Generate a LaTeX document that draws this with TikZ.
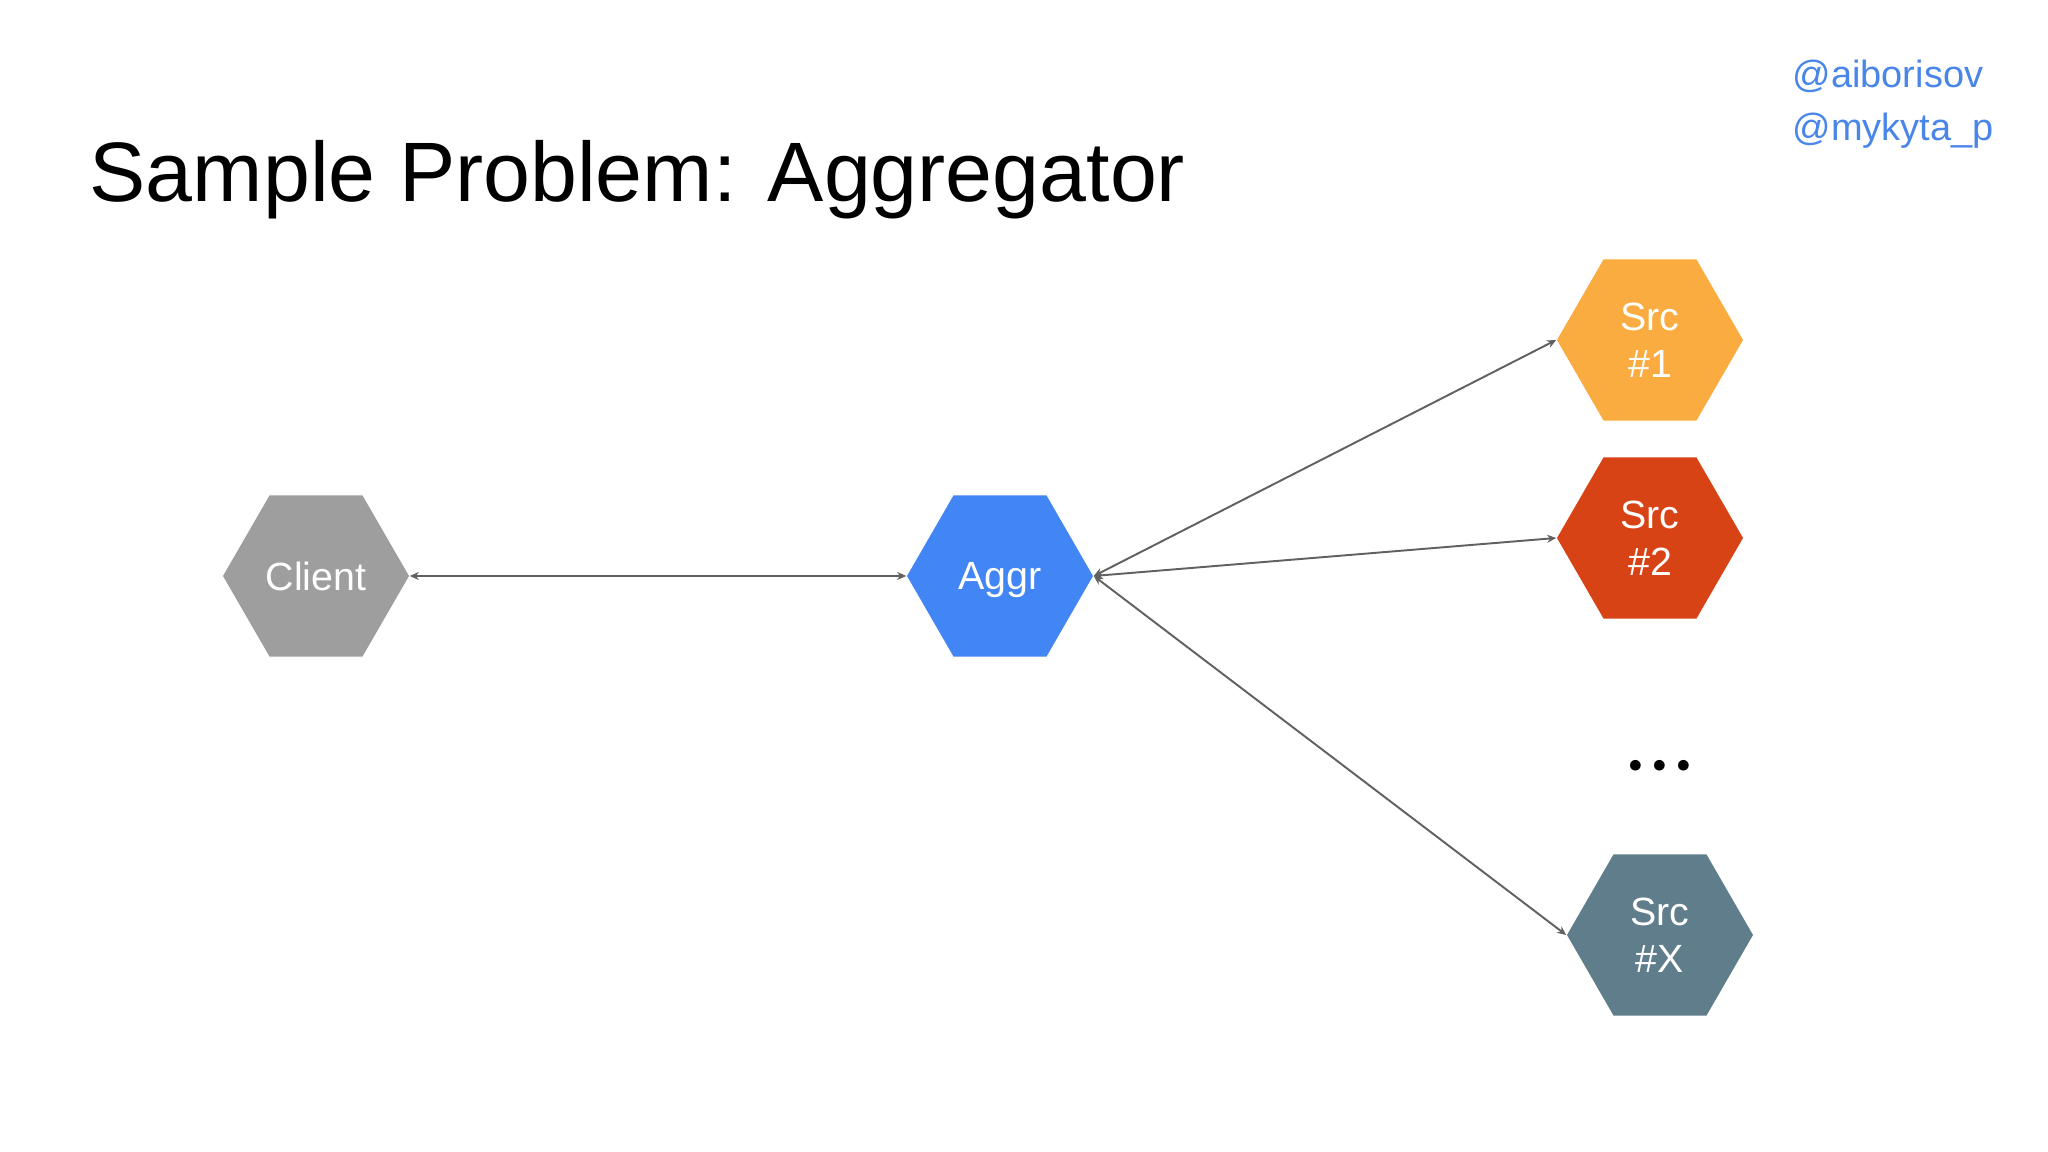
\documentclass[tikz,border=0pt]{standalone}
\usepackage{fontspec}
\setmainfont{Liberation Sans}
\newfontfamily\dotsfont{Lato}
\usepackage{tikz}
\usetikzlibrary{arrows.meta,calc,positioning,shapes.geometric}
\definecolor{clientgray}{HTML}{9E9E9E}
\definecolor{aggrblue}{HTML}{4285F4}
\definecolor{srcorange}{HTML}{FBAC40}
\definecolor{srcred}{HTML}{D84315}
\definecolor{srcslate}{HTML}{607D8B}
\definecolor{handleblue}{HTML}{4A86E8}
\definecolor{linkgray}{HTML}{616161}
\tikzset{hex node/.style={
    regular polygon,
    regular polygon sides=6,
    minimum size=1.86cm,
    inner sep=0pt,
    fill=#1,
    text=white,
    align=center,
    font=\fontsize{11.2}{13.4}\selectfont
  },
  hex node/.default=clientgray,
  link/.style={
    draw=linkgray,
    line width=0.55pt,
    {Stealth[length=0.09cm,width=0.08cm]}-{Stealth[length=0.09cm,width=0.08cm]}
  }
}

\begin{document}
\begin{tikzpicture}
    \useasboundingbox[fill=white] (0,0) rectangle (20.48,11.52);
    % title and handles
    \node[anchor=base west,inner sep=0pt,font=\fontsize{24}{29}\selectfont] (title) at (0.89,9.50) {Sample Problem: Aggregator};
    \node[anchor=west,inner sep=0pt,text=handleblue,font=\fontsize{10.8}{13}\selectfont] (handleA) at (17.92,10.76) {@aiborisov};
    \node[anchor=west,inner sep=0pt,text=handleblue,font=\fontsize{10.8}{13}\selectfont] (handleB) at (17.92,10.21) {@mykyta\_p};
    % nodes
    \node[hex node=clientgray] (client) at (3.16,5.76) {Client};
    \node[hex node=aggrblue,text depth=0pt] (aggr) at (10.00,5.76) {Aggr};
    \node[hex node=srcorange] (src1) at (16.50,8.12) {Src\\\#1};
    \node[hex node=srcred] (src2) at (16.50,6.14) {Src\\\#2};
    \node[hex node=srcslate] (srcx) at (16.60,2.17) {Src\\\#X};
    \node[font=\dotsfont\bfseries\fontsize{20}{24}\selectfont] (dots) at (16.60,3.86) {.\hspace{2pt}.\hspace{2pt}.};
    % links
    \draw[link] (client.east) -- (aggr.west);
    \draw[link] (aggr.east) -- (src1.west);
    \draw[link] (aggr.east) -- (src2.west);
    \draw[link] (aggr.east) -- (srcx.west);
\end{tikzpicture}
\end{document}
